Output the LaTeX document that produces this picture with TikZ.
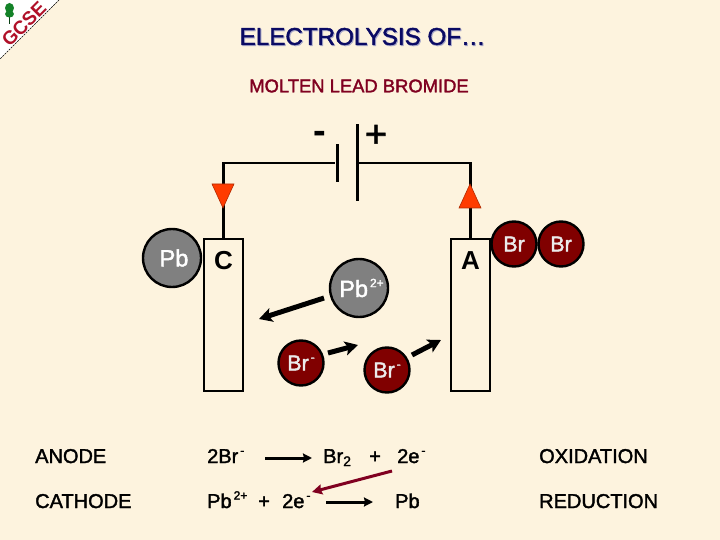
\documentclass[tikz,border=0pt]{standalone}
\usepackage{fontspec}
\setmainfont{Liberation Sans}
\newfontfamily\medfont[FakeBold=1.8]{Liberation Sans}
\usepackage{tikz}
\usetikzlibrary{arrows.meta}
\definecolor{parchment}{RGB}{253,243,222}
\definecolor{deepmaroon}{RGB}{128,0,32}
\definecolor{badgered}{RGB}{176,16,40}
\definecolor{ionmaroon}{RGB}{128,0,0}
\definecolor{iongray}{RGB}{128,128,128}
\definecolor{titleblue}{RGB}{10,10,100}
\definecolor{sparkred}{RGB}{255,60,0}
\definecolor{treegreen}{RGB}{20,130,40}
\newcommand{\smallup}[1]{\raisebox{0.42em}{\fontsize{12}{12}\selectfont\,#1}}

\begin{document}
\begin{tikzpicture}[
    x=1pt, y=-1pt,
    electrode/.style={rectangle, draw=black, fill=parchment, line width=2.4pt, minimum width=39pt, minimum height=152pt, inner sep=0pt},
    plate/.style={rectangle, fill=black, inner sep=0pt, minimum width=3pt, minimum height=#1},
    leadion/.style={circle, draw=black, fill=iongray, line width=2.4pt, minimum size=58pt, inner sep=0pt, text=white, font=\medfont\fontsize{23.5}{23.5}\selectfont},
    brion/.style={circle, draw=black, fill=ionmaroon, line width=2.4pt, minimum size=45pt, inner sep=0pt, text=white!92!black, font=\medfont\fontsize{21.5}{21.5}\selectfont},
    eqtext/.style={anchor=base west, inner sep=0pt, font=\medfont\fontsize{20}{20}\selectfont},
    wire/.style={line width=2.6pt},
    spark/.style={draw=sparkred!70!black, fill=sparkred, line width=0.6pt},
    motion/.style={-{Stealth[length=13pt, width=14pt, inset=3pt]}, line width=5pt},
    react/.style={-{Stealth[length=9pt, width=9pt, inset=1pt]}, line width=3pt},
]
    \useasboundingbox (0,0) rectangle (720,540);
    \fill[parchment] (0,0) rectangle (720,540);

    % Corner badge
    \fill[white] (0,0) -- (59,0) -- (0,59) -- cycle;
    \draw[black, line width=0.7pt, dash pattern=on 2pt off 1pt] (59,0) -- (0,59);
    \draw[treegreen!50!black, line width=1pt] (9.5,24) -- (9.5,6);
    \fill[treegreen] (9.5,8) ellipse (4.5pt and 5pt);
    \fill[treegreen] (9.5,14) ellipse (4.5pt and 3.5pt);
    \node[rotate=45, text=badgered, font=\fontsize{19}{19}\selectfont\bfseries, inner sep=0pt] (badge) at (24,24) {GCSE};

    % Titles
    \node[text=titleblue!35, font=\medfont\fontsize{24.2}{24.2}\selectfont] (titleshadow) at (363.5,37.5) {ELECTROLYSIS OF…};
    \node[text=titleblue, font=\medfont\fontsize{24.2}{24.2}\selectfont] (title) at (362.5,36.5) {ELECTROLYSIS OF…};
    \node[text=deepmaroon, font=\medfont\fontsize{18.4}{18.4}\selectfont] (subtitle) at (359,86) {MOLTEN LEAD BROMIDE};

    % Cell
    \node[electrode] (cathode) at (223.5,315) {};
    \node[electrode] (anode) at (470.5,315) {};
    \node[font=\fontsize{26}{26}\selectfont\bfseries] (clabel) at (223.5,261) {C};
    \node[font=\fontsize{26}{26}\selectfont\bfseries] (alabel) at (470.5,261) {A};
    \node[plate=38pt] (minusplate) at (337,163) {};
    \node[plate=77pt] (plusplate) at (357,163) {};
    \node[font=\fontsize{38}{38}\selectfont\bfseries] (minus) at (320,137) {-};
    \node[font=\medfont\fontsize{38}{38}\selectfont] (plus) at (376,136) {+};
    \draw[wire] (cathode.north) |- (minusplate.west);
    \draw[wire] (anode.north) |- (plusplate.east);
    \draw[spark] (212,184) -- (234,184) -- (223,208) -- cycle;
    \draw[spark] (459,208) -- (481,208) -- (470,184) -- cycle;

    % Ions
    \node[leadion] (pbatom) at (172,258) {\hspace*{4pt}Pb};
    \node[leadion] (pbion) at (359,288) {\hspace*{5pt}Pb\smallup{2+}};
    \node[brion] (brone) at (301,363) {Br\smallup{-}};
    \node[brion] (brtwo) at (387,370) {Br\smallup{-}};
    \node[brion] (bratomone) at (514,244) {Br};
    \node[brion] (bratomtwo) at (561,244) {Br};

    % Ion motion
    \coordinate (pbtarget) at (259,319);
    \coordinate (brmid) at (358,345);
    \coordinate (brtarget) at (441,340);
    \draw[motion] (pbion) ++(-35,10) -- (pbtarget);
    \draw[motion] (brone) ++(27,-10) -- (brmid);
    \draw[motion] (brtwo) ++(25,-15) -- (brtarget);

    % Half equations
    \node[eqtext] (anodeword) at (35,463) {ANODE};
    \node[eqtext] (cathodeword) at (35,508) {CATHODE};
    \node[eqtext] (brleft) at (207,463) {2Br\smallup{-}};
    \node[eqtext] (brright) at (323,463) {Br\textsubscript{2}};
    \node[eqtext] (plusright) at (369,463) {+};
    \node[eqtext] (eright) at (397,463) {2e\smallup{-}};
    \node[eqtext] (pbleft) at (207,508) {Pb\smallup{2+}};
    \node[eqtext] (plusleft) at (258,508) {+};
    \node[eqtext] (eleft) at (282,508) {2e\smallup{-}};
    \node[eqtext] (pbright) at (395,508) {Pb};
    \node[eqtext] (oxword) at (539,463) {OXIDATION};
    \node[eqtext] (redword) at (539,508) {REDUCTION};

    \coordinate (toparrowa) at (265,458);
    \coordinate (toparrowb) at (312,458);
    \coordinate (lowarrowa) at (326,502);
    \coordinate (lowarrowb) at (373,502);
    \coordinate (electrona) at (392,471);
    \coordinate (electronb) at (312,492);
    \draw[react] (toparrowa) -- (toparrowb);
    \draw[react] (lowarrowa) -- (lowarrowb);
    \draw[deepmaroon, -{Stealth[length=10pt, width=10pt, inset=1pt]}, line width=3pt] (electrona) -- (electronb);
\end{tikzpicture}
\end{document}
